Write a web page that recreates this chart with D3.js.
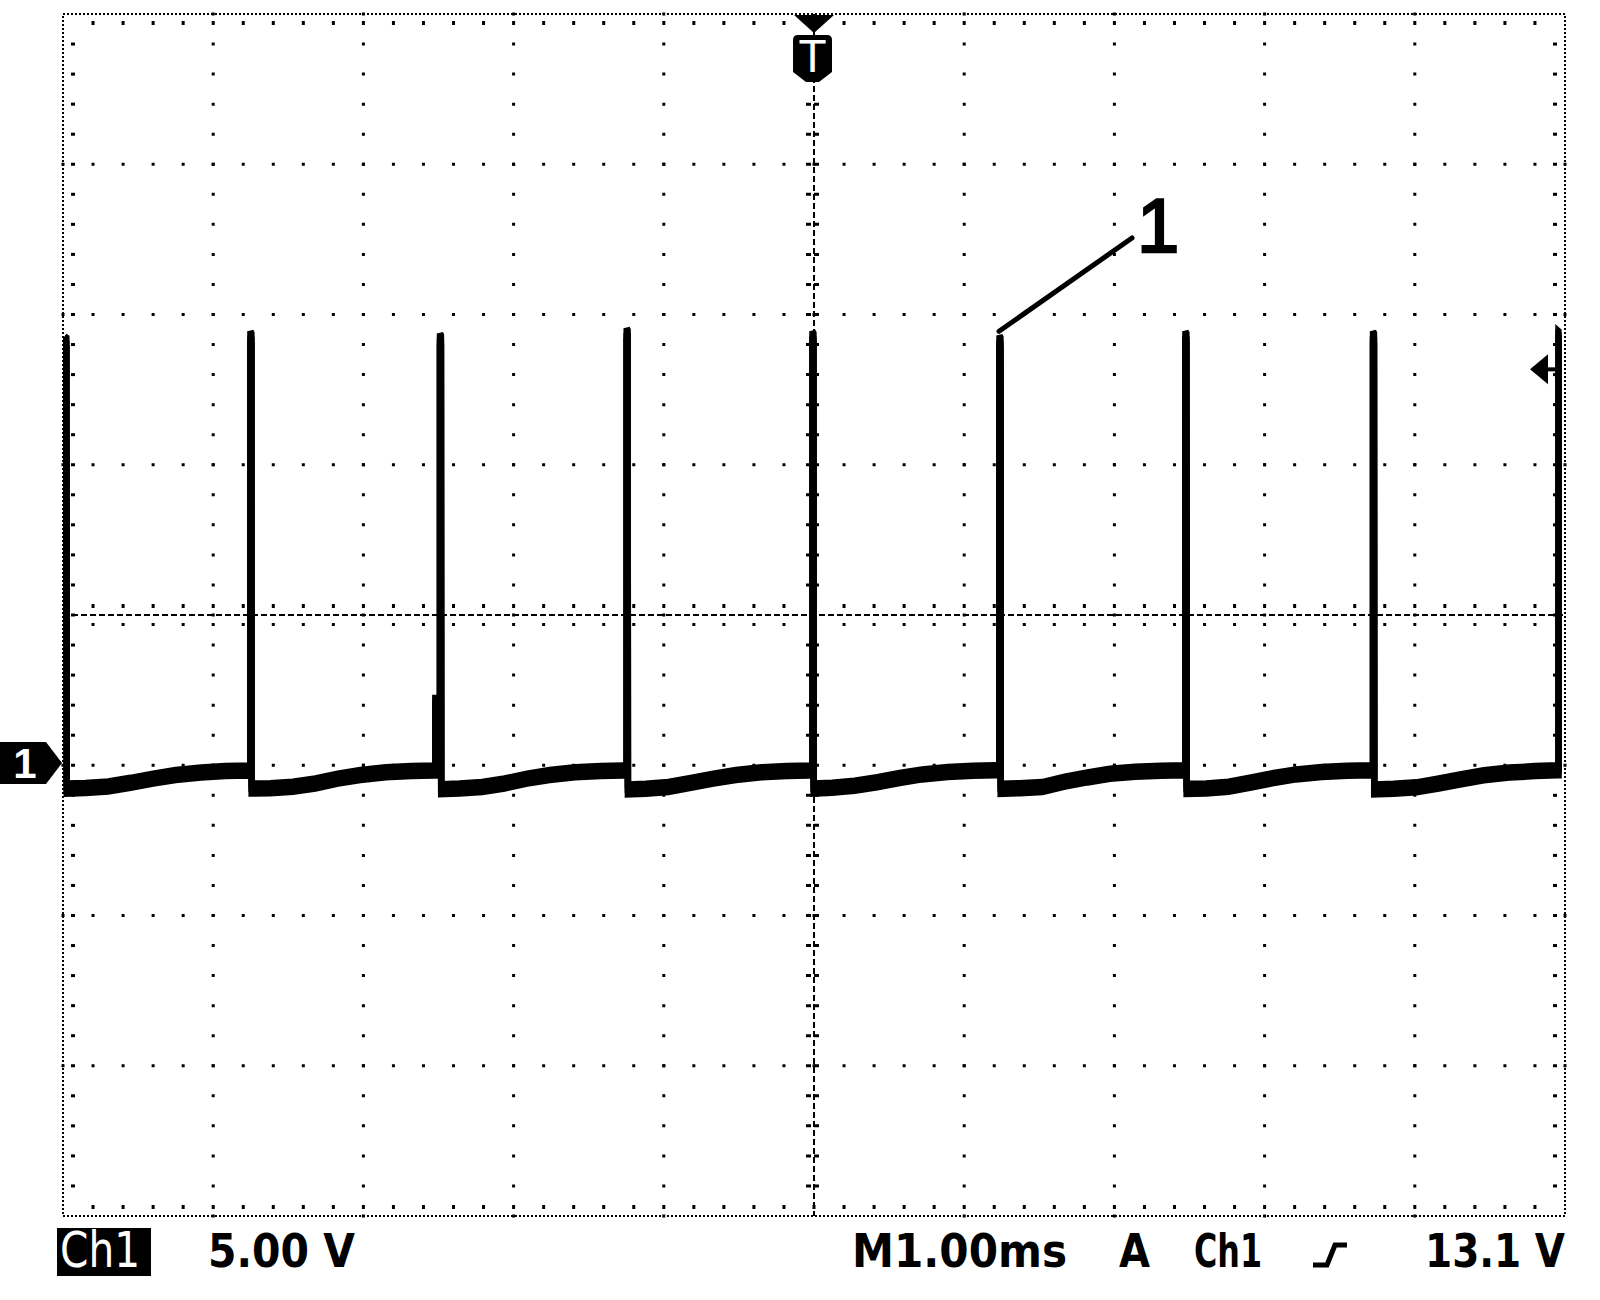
<!DOCTYPE html>
<html><head><meta charset="utf-8">
<script src="https://cdn.jsdelivr.net/npm/d3@7"></script>
<style>html,body{margin:0;padding:0;background:#fff;} svg{display:block;}</style>
</head><body>
<svg id="chart" width="1600" height="1300"></svg>
<script>
// ---------------- data ----------------
const timeDomain = [-5, 5];          // ms, 1.00 ms/div
const divDomain = [-4, 4];           // vertical divisions
const voltsPerDiv = 5.0;
const groundDiv = -0.985;            // Ch1 ground reference position (div)
const triggerLevel = 13.1;           // V
const majorTimeTicks = [-5,-4,-3,-2,-1,0,1,2,3,4,5];
const majorDivTicks = [-4,-3,-2,-1,0,1,2,3,4];
const minorPerDiv = 5;

// Ch1 trace (time in ms, voltage in V)
const traceTime = [
  -4.990, -4.978, -4.975, -4.85, -4.70, -4.55, -4.40, -4.25, -4.08, -3.92, -3.76,
  -3.752, -3.752, -3.746, -3.744, -3.62, -3.47, -3.32, -3.17, -3.02, -2.85, -2.68, -2.53,
  -2.521, -2.521, -2.490,
  -2.490, -2.484, -2.482, -2.36, -2.21, -2.06, -1.91, -1.76, -1.59, -1.42, -1.27,
  -1.247, -1.247, -1.241, -1.239, -1.12, -0.97, -0.82, -0.67, -0.52, -0.35, -0.18, -0.03,
  -0.010, -0.010, -0.004, -0.002, 0.12, 0.27, 0.42, 0.57, 0.72, 0.89, 1.06, 1.21,
  1.235, 1.235, 1.241, 1.243, 1.37, 1.52, 1.67, 1.82, 1.97, 2.14, 2.31, 2.46,
  2.473, 2.473, 2.479, 2.481, 2.61, 2.76, 2.91, 3.06, 3.21, 3.38, 3.55, 3.71,
  3.722, 3.722, 3.728, 3.730, 3.86, 4.01, 4.16, 4.31, 4.46, 4.63, 4.80, 4.95,
  4.957, 4.957, 4.966
];
const traceVolt = [
  14.03, 13.99, -0.85, -0.83, -0.78, -0.66, -0.52, -0.40, -0.32, -0.27, -0.25,
  -0.25, 14.20, 14.14, -0.85, -0.84, -0.79, -0.68, -0.52, -0.40, -0.31, -0.27, -0.25,
  -0.25, 2.00, 2.00,
  14.13, 14.07, -0.87, -0.85, -0.80, -0.68, -0.52, -0.40, -0.31, -0.27, -0.25,
  -0.25, 14.30, 14.24, -0.88, -0.86, -0.80, -0.66, -0.52, -0.40, -0.31, -0.27, -0.25,
  -0.25, 14.20, 14.14, -0.85, -0.82, -0.76, -0.64, -0.50, -0.38, -0.30, -0.26, -0.24,
  -0.24, 14.06, 14.00, -0.86, -0.84, -0.80, -0.62, -0.48, -0.36, -0.29, -0.26, -0.24,
  -0.24, 14.20, 14.14, -0.86, -0.85, -0.79, -0.65, -0.50, -0.38, -0.30, -0.26, -0.24,
  -0.24, 14.20, 14.14, -0.88, -0.86, -0.81, -0.68, -0.54, -0.41, -0.32, -0.27, -0.24,
  -0.24, 14.20, 14.16
];

// annotation
const annotationLabel = "1";
const annotationTarget = [1.232, 14.4];   // (ms, V) top of the 6th pulse

// status line texts
const channelLabel = "Ch1";
const scaleLabel = "5.00 V";
const timebaseLabel = "M1.00ms";
const triggerModeLabel = "A";
const triggerSourceLabel = "Ch1";
const triggerLevelLabel = "13.1 V";
const triggerMarkerLabel = "T";
const groundMarkerLabel = "1";

// ---------------- drawing ----------------
const svg = d3.select("#chart");
svg.append("rect").attr("width",1600).attr("height",1300).attr("fill","#fff");

const x = d3.scaleLinear().domain(timeDomain).range([63, 1565]);
const yDiv = d3.scaleLinear().domain(divDomain).range([1216, 14]);
const yV = d3.scaleLinear()
  .domain([(divDomain[0]-groundDiv)*voltsPerDiv, (divDomain[1]-groundDiv)*voltsPerDiv])
  .range([1216, 14]);

const minorX = (x(1)-x(0))/minorPerDiv;
const minorY = (yDiv(0)-yDiv(1))/minorPerDiv;
const minorTimes = d3.range(timeDomain[0]*minorPerDiv, timeDomain[1]*minorPerDiv+1).map(d=>d/minorPerDiv);
const minorDivs = d3.range(divDomain[0]*minorPerDiv, divDomain[1]*minorPerDiv+1).map(d=>d/minorPerDiv);

const grid = svg.append("g").attr("fill","#000").attr("stroke","#000");

// interior vertical grid lines: dots at minor positions
grid.selectAll("line.vg").data(majorTimeTicks.filter(t=>t!==0 && t!==timeDomain[0] && t!==timeDomain[1]))
  .join("line").attr("class","vg")
  .attr("x1",d=>x(d)).attr("x2",d=>x(d))
  .attr("y1",yDiv(divDomain[1])-1.5).attr("y2",yDiv(divDomain[0])+1.5)
  .attr("stroke-width",3).attr("stroke-dasharray",`3 ${minorY-3}`);

// interior horizontal grid lines
grid.selectAll("line.hg").data(majorDivTicks.filter(t=>t!==0 && t!==divDomain[0] && t!==divDomain[1]))
  .join("line").attr("class","hg")
  .attr("y1",d=>yDiv(d)).attr("y2",d=>yDiv(d))
  .attr("x1",x(timeDomain[0])-1.5).attr("x2",x(timeDomain[1])+1.5)
  .attr("stroke-width",3).attr("stroke-dasharray",`3 ${minorX-3}`);

// border
grid.append("rect")
  .attr("x",x(timeDomain[0])).attr("y",yDiv(divDomain[1]))
  .attr("width",x(timeDomain[1])-x(timeDomain[0])).attr("height",yDiv(divDomain[0])-yDiv(divDomain[1]))
  .attr("fill","none").attr("stroke-width",2).attr("stroke-dasharray","2 2");

// border ticks
const innerT = minorTimes.slice(1,-1), innerD = minorDivs.slice(1,-1);
grid.selectAll("rect.tt").data(innerT).join("rect").attr("class","tt")
  .attr("x",d=>x(d)-1.5).attr("y",yDiv(divDomain[1])+7).attr("width",3).attr("height",4).attr("stroke","none");
grid.selectAll("rect.tb").data(innerT).join("rect").attr("class","tb")
  .attr("x",d=>x(d)-1.5).attr("y",yDiv(divDomain[0])-11).attr("width",3).attr("height",4).attr("stroke","none");
grid.selectAll("rect.tl").data(innerD).join("rect").attr("class","tl")
  .attr("x",x(timeDomain[0])+8).attr("y",d=>yDiv(d)-1.5).attr("width",4).attr("height",3).attr("stroke","none");
grid.selectAll("rect.tr").data(innerD).join("rect").attr("class","tr")
  .attr("x",x(timeDomain[1])-12).attr("y",d=>yDiv(d)-1.5).attr("width",4).attr("height",3).attr("stroke","none");

// center lines
grid.append("line").attr("x1",x(timeDomain[0])).attr("x2",x(timeDomain[1]))
  .attr("y1",yDiv(0)).attr("y2",yDiv(0)).attr("stroke-width",2).attr("stroke-dasharray","6 3");
grid.append("line").attr("y1",yDiv(divDomain[1])).attr("y2",yDiv(divDomain[0]))
  .attr("x1",x(0)).attr("x2",x(0)).attr("stroke-width",2).attr("stroke-dasharray","6 3");
grid.selectAll("rect.ch").data(innerT.filter(d=>d!==0)).join("rect").attr("class","ch")
  .attr("x",d=>x(d)-1.5).attr("y",yDiv(0)-11).attr("width",3).attr("height",4).attr("stroke","none");
grid.selectAll("rect.ch2").data(innerT.filter(d=>d!==0)).join("rect").attr("class","ch2")
  .attr("x",d=>x(d)-1.5).attr("y",yDiv(0)+8).attr("width",3).attr("height",3).attr("stroke","none");
grid.selectAll("line.cv").data(innerD.filter(d=>d!==0)).join("line").attr("class","cv")
  .attr("x1",x(0)-8).attr("x2",x(0)+8).attr("y1",d=>yDiv(d)).attr("y2",d=>yDiv(d))
  .attr("stroke-width",3).attr("stroke-dasharray","5 3");

// trace: a noisy band drawn as the line plus two vertically offset copies
const traceData = traceTime.map((t,i)=>({t, v: traceVolt[i]}));
const traceLine = d3.line().x(d=>x(d.t)).y(d=>yV(d.v));
const traceG = svg.append("g");
[-5, 0, 5].forEach(off => {
  traceG.append("path").datum(traceData)
    .attr("d", traceLine)
    .attr("transform", `translate(0,${off})`)
    .attr("fill","none").attr("stroke","#000").attr("stroke-width",6.5)
    .attr("stroke-linejoin","miter").attr("stroke-miterlimit",4);
});

// annotation "1"
const ax = x(annotationTarget[0]), ay = yV(annotationTarget[1]);
svg.append("line").attr("x1",ax).attr("y1",ay+1).attr("x2",1132).attr("y2",238)
  .attr("stroke","#000").attr("stroke-width",5).attr("stroke-linecap","round");
svg.append("text").attr("x",1137).attr("y",252).text(annotationLabel)
  .attr("font-family","'Liberation Sans', Arial, sans-serif").attr("font-size",76)
  .attr("fill","#000").attr("stroke","#000").attr("stroke-width",2.5);

// trigger position marker (top)
const tx = x(0);
svg.append("path").attr("d",`M${tx-20},15 L${tx+20},15 L${tx},33 Z`).attr("fill","#000");
svg.append("path").attr("d",`M${tx-21},40 Q${tx-21},35 ${tx-16},35 L${tx+13},35 Q${tx+18},35 ${tx+18},40 L${tx+18},72 L${tx+5},82 L${tx-8},82 L${tx-21},72 Z`).attr("fill","#000");
svg.append("text").attr("x",tx-1.5).attr("y",72).attr("text-anchor","middle").text(triggerMarkerLabel)
  .attr("font-family","'Liberation Sans', Arial, sans-serif").attr("font-size",46).attr("fill","#fff");

// trigger level marker (right)
const ty = yV(triggerLevel);
svg.append("path").attr("d",`M1530,${ty} L1548,${ty-15} L1548,${ty+15} Z`).attr("fill","#000");
svg.append("line").attr("x1",1546).attr("x2",1560).attr("y1",ty).attr("y2",ty).attr("stroke","#000").attr("stroke-width",4);

// ground marker (left)
const gy = yV(0);
svg.append("path").attr("d",`M0,${gy-21} L46,${gy-21} L62,${gy} L46,${gy+21} L0,${gy+21} Z`).attr("fill","#000");
svg.append("text").attr("x",25).attr("y",gy+15).attr("text-anchor","middle").text(groundMarkerLabel)
  .attr("font-family","'Liberation Sans', Arial, sans-serif").attr("font-weight","bold").attr("font-size",42).attr("fill","#fff");

// status line
const narrow = "'Liberation Sans Narrow','DejaVu Sans Condensed','Arial Narrow',sans-serif";
svg.append("rect").attr("x",57).attr("y",1228).attr("width",94).attr("height",48).attr("fill","#000");
function label(txt, x0, w, opts={}) {
  svg.append("text").attr("x",x0).attr("y",1267).text(txt)
    .attr("font-family",narrow).attr("font-size",opts.size||46)
    .attr("font-weight",opts.weight||"bold").attr("fill",opts.fill||"#000")
    .attr("textLength",w).attr("lengthAdjust","spacingAndGlyphs");
}
label(channelLabel, 60, 80, {size:50, weight:"normal", fill:"#fff"});
label(scaleLabel, 208, 147);
label(timebaseLabel, 852, 215);
label(triggerModeLabel, 1119, 31);
label(triggerSourceLabel, 1194, 68);
label(triggerLevelLabel, 1425, 140);
// rising-edge trigger slope symbol
svg.append("path").attr("d","M1313,1265 L1327,1265 L1335,1245 L1347,1245")
  .attr("fill","none").attr("stroke","#000").attr("stroke-width",5).attr("stroke-linejoin","miter");
</script>
</body></html>
